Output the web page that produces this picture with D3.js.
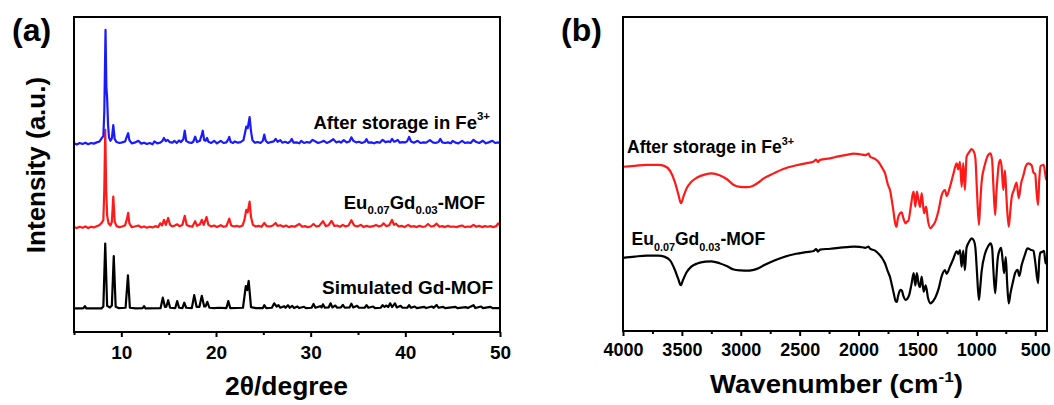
<!DOCTYPE html>
<html>
<head>
<meta charset="utf-8">
<script src="https://cdn.jsdelivr.net/npm/d3@7"></script>
<style>
  html, body { margin: 0; padding: 0; background: #fff; }
  svg { display: block; }
  text { font-family: "Liberation Sans", Arial, sans-serif; font-weight: bold; fill: #000; }
</style>
</head>
<body>
<script>
// ---------- (a) powder XRD patterns: [2θ (deg), intensity above own baseline (a.u.)] ----------
const xrdSimulated = [
  [5.0,0],[5.8,0],[6.0,0.1],[6.15,0.7],[6.3,0],[7.9,0],[8.1,0.6],[8.3,20.6],[8.5,0.8],[8.8,0.3],
  [9.0,0.9],[9.2,16.6],[9.4,0.5],[9.7,0.1],[10.45,0.2],[10.7,10.5],[10.9,0.2],[11.5,0],[12.25,0.1],
  [12.4,0.7],[12.55,0],[14.15,0.1],[14.38,3.4],[14.6,0.5],[14.75,0.5],[14.95,2.6],[15.15,0.2],
  [15.7,0.1],[15.9,2.3],[16.1,0.2],[16.45,0.1],[16.65,1.8],[16.85,0.2],[17.45,0.1],[17.7,4.2],
  [17.95,0.5],[18.25,0.5],[18.5,4.0],[18.75,0.6],[18.9,0.6],[19.08,2.1],[19.3,0.2],[19.8,0.1],
  [20.3,0.2],[21.1,0.1],[21.3,2.3],[21.5,0.1],[22.85,0.2],[23.15,7.1],[23.3,5.8],[23.45,8.7],
  [23.7,0.4],[24.2,0.1],[24.95,0.1],[25.1,1.0],[25.3,0.1],[25.9,0.2],[26.15,1.6],[26.4,0.6],
  [26.6,1.0],[26.8,0.2],[27.2,0.7],[27.35,0.2],[27.6,1.0],[27.8,0.2],[28.05,0.8],[28.25,0.1],
  [28.6,0.6],[28.8,0.1],[29.3,0.5],[29.5,0.1],[30.1,0.2],[30.3,1.4],[30.5,0.2],[31.0,0.7],
  [31.15,0.3],[31.3,1.3],[31.5,0.2],[31.9,0.3],[32.1,1.6],[32.3,0.3],[32.6,0.9],[32.8,0.2],
  [33.2,0.3],[33.4,1.1],[33.6,0.2],[34.1,0.3],[34.3,1.5],[34.5,0.3],[34.9,0.8],[35.1,0.2],
  [35.7,0.2],[35.9,1.0],[36.1,0.2],[36.6,0.6],[36.8,0.1],[37.4,0.2],[37.6,1.0],[37.8,0.5],
  [38.0,0.9],[38.2,0.4],[38.4,1.6],[38.6,0.4],[38.9,1.6],[39.1,0.3],[39.5,0.8],[39.7,0.2],
  [40.2,0.2],[40.4,1.0],[40.6,0.2],[41.0,0.6],[41.2,0.1],[42.0,0.5],[42.2,0.1],[42.8,0.6],
  [43.0,0.2],[43.3,1.1],[43.5,0.2],[44.0,0.5],[44.2,0.1],[45.3,0.5],[45.5,0.1],[46.4,0.4],
  [46.6,0.1],[47.2,1.0],[47.4,0.1],[48.0,0.6],[48.2,0.1],[49.0,0.5],[49.2,0.1],[50.0,0.1]
];

const xrdEuGd = [
  [5.0,0.3],[5.3,0.0],[5.6,0.4],[5.9,0.1],[6.2,0.5],[6.5,0.0],[6.8,0.4],[7.1,0.2],[7.4,0.6],
  [7.7,1.0],[7.95,1.8],[8.1,2.5],[8.2,12],[8.3,31.2],[8.4,12],[8.5,4.0],[8.65,1.5],[8.85,0.8],
  [9.0,2.0],[9.15,10.0],[9.3,2.0],[9.5,0.6],[9.8,0.3],[10.1,0.5],[10.4,0.9],[10.6,3.0],[10.72,4.8],
  [10.85,1.5],[11.1,0.3],[11.4,0.5],[11.8,0.8],[12.1,0.2],[12.4,0.5],[12.7,0.1],[13.0,0.4],
  [13.3,0.2],[13.6,0.6],[13.9,0.3],[14.1,1.5],[14.3,0.8],[14.5,2.6],[14.7,1.0],[14.95,3.2],
  [15.15,1.0],[15.4,0.5],[15.65,0.8],[15.9,1.2],[16.15,0.6],[16.45,1.0],[16.7,3.9],[16.9,1.0],
  [17.2,0.6],[17.5,0.4],[17.8,2.2],[18.0,0.7],[18.3,1.2],[18.5,2.6],[18.7,1.0],[19.0,3.5],
  [19.2,1.0],[19.5,0.5],[19.8,0.8],[20.1,0.3],[20.5,0.9],[20.8,0.4],[21.1,0.6],[21.4,3.0],
  [21.6,0.8],[21.9,0.5],[22.2,0.7],[22.5,0.4],[22.8,0.8],[23.0,2.5],[23.2,5.8],[23.35,5.0],
  [23.55,8.4],[23.7,3.5],[23.9,1.0],[24.2,0.5],[24.5,0.7],[24.8,0.4],[25.1,1.6],[25.35,0.6],
  [25.7,0.5],[26.0,0.8],[26.3,1.6],[26.5,0.7],[26.8,0.9],[27.1,0.4],[27.4,0.8],[27.7,0.3],
  [28.0,0.6],[28.3,0.4],[28.8,1.3],[29.1,0.4],[29.4,0.6],[29.7,0.3],[30.0,0.5],[30.3,1.3],
  [30.6,0.5],[30.9,0.7],[31.3,2.2],[31.6,0.6],[31.9,0.9],[32.2,2.3],[32.5,0.7],[32.8,0.8],
  [33.1,0.4],[33.4,1.0],[33.7,0.5],[34.0,0.8],[34.3,2.5],[34.6,0.8],[34.9,0.5],[35.3,1.0],
  [35.6,0.3],[35.9,0.7],[36.2,0.4],[36.6,0.6],[36.9,1.0],[37.2,0.5],[37.5,0.8],[37.7,1.5],
  [38.0,0.6],[38.3,0.9],[38.6,2.6],[38.8,1.0],[39.0,1.4],[39.3,0.5],[39.6,0.7],[39.9,0.3],
  [40.3,1.0],[40.6,0.4],[40.9,0.6],[41.2,0.3],[41.5,0.7],[41.8,0.4],[42.1,0.5],[42.4,1.3],
  [42.7,0.5],[43.0,0.6],[43.3,1.4],[43.6,0.4],[43.9,0.6],[44.2,0.3],[44.5,0.7],[44.8,0.4],
  [45.1,0.5],[45.4,0.3],[45.7,0.6],[46.0,0.8],[46.3,0.3],[46.6,0.5],[46.9,0.4],[47.2,1.0],
  [47.5,0.4],[47.8,0.7],[48.1,0.3],[48.4,0.6],[48.7,0.4],[49.0,0.6],[49.3,0.3],[49.6,0.6],
  [49.8,1.5],[50.0,0.8]
];

const xrdAfterFe = [
  [5.0,0.2],[5.3,-0.2],[5.6,0.3],[5.9,0.0],[6.2,0.4],[6.5,-0.1],[6.8,0.3],[7.1,0.1],[7.4,0.5],
  [7.7,0.8],[7.95,1.9],[8.1,2.5],[8.2,10],[8.33,36.2],[8.42,18],[8.5,14.6],[8.6,6],[8.7,2.0],
  [8.85,1.0],[9.0,1.8],[9.15,6.0],[9.3,1.5],[9.5,0.6],[9.8,0.3],[10.1,0.5],[10.4,0.8],[10.6,2.5],
  [10.72,3.4],[10.85,1.2],[11.1,0.2],[11.4,0.4],[11.8,1.0],[12.1,0.1],[12.4,0.4],[12.7,0.0],
  [13.0,0.3],[13.3,-0.1],[13.5,0.8],[13.8,0.2],[14.1,0.4],[14.35,1.0],[14.5,1.9],[14.7,0.9],
  [14.9,1.3],[15.1,0.6],[15.4,0.4],[15.6,1.0],[15.85,0.3],[16.1,1.1],[16.3,0.6],[16.55,1.5],
  [16.7,4.2],[16.85,1.0],[17.1,0.5],[17.4,0.3],[17.6,0.7],[17.8,2.3],[18.0,0.6],[18.3,1.0],
  [18.5,3.0],[18.6,4.2],[18.75,1.2],[18.9,1.0],[19.05,1.9],[19.2,0.7],[19.5,0.3],[19.8,1.0],
  [20.1,0.2],[20.5,1.0],[20.8,0.3],[21.1,0.5],[21.3,1.5],[21.4,2.2],[21.55,0.6],[21.8,0.3],
  [22.0,0.8],[22.3,0.4],[22.6,0.6],[22.9,1.2],[23.1,4.0],[23.2,5.5],[23.35,5.0],[23.55,8.5],
  [23.7,4.0],[23.85,1.2],[24.1,0.4],[24.4,0.6],[24.7,0.3],[24.95,1.0],[25.1,3.0],[25.25,1.0],
  [25.5,0.3],[25.8,0.6],[26.1,0.8],[26.3,1.6],[26.5,0.7],[26.8,1.2],[27.0,0.4],[27.3,0.7],
  [27.6,0.3],[27.85,0.8],[28.0,1.6],[28.2,0.4],[28.5,0.5],[28.8,0.2],[29.0,1.0],[29.3,0.3],
  [29.6,0.6],[29.9,0.4],[30.2,1.3],[30.5,0.8],[30.8,0.3],[31.1,0.6],[31.4,1.0],[31.7,0.3],
  [32.0,0.7],[32.4,1.5],[32.7,0.5],[33.0,0.8],[33.2,0.4],[33.5,1.2],[33.8,0.5],[34.1,0.8],
  [34.3,2.1],[34.5,1.0],[34.8,0.5],[35.1,0.7],[35.4,0.3],[35.7,0.6],[35.9,1.5],[36.1,0.4],
  [36.4,0.5],[36.7,0.2],[37.0,0.6],[37.3,0.4],[37.6,1.3],[37.9,0.6],[38.2,0.8],[38.4,0.6],
  [38.6,1.6],[38.8,0.7],[39.0,0.9],[39.2,1.3],[39.4,0.4],[39.7,0.6],[40.0,0.5],[40.2,0.9],
  [40.4,2.2],[40.6,0.8],[40.9,0.4],[41.1,0.7],[41.3,1.0],[41.6,0.3],[41.9,0.5],[42.2,0.4],
  [42.6,1.2],[42.9,0.5],[43.2,0.3],[43.5,0.6],[43.7,1.6],[43.9,0.5],[44.2,0.3],[44.5,0.5],
  [44.8,0.2],[45.0,1.0],[45.3,0.4],[45.6,0.2],[46.0,1.0],[46.3,0.3],[46.6,0.5],[46.9,0.3],
  [47.2,1.3],[47.5,0.6],[47.8,0.3],[48.2,1.0],[48.5,0.2],[48.8,0.5],[49.2,1.0],[49.5,0.3],
  [49.8,0.5],[50.0,0.2]
];

// vertical stacking offsets (a.u.) and colours, bottom to top
const xrdOffsets = [7.5, 33.0, 59.7];
const xrdColors = ["#000000", "#ff1a1a", "#1a1aff"];
const xrdTicks = [10, 20, 30, 40, 50];
const xrdMinorTicks = [5, 15, 25, 35, 45];

// ---------- (b) FT-IR spectra: [wavenumber (cm-1), transmittance (a.u.)] ----------
const irAfterFe = [
  [4000,52.3],[3900,52.6],[3800,52.9],[3700,52.9],[3650,52.6],[3600,51.0],[3560,47.5],[3530,43.5],
  [3507,40.7],[3485,43.0],[3459,45.5],[3420,47.5],[3374,48.8],[3300,49.9],[3247,50.2],[3180,49.6],
  [3120,48.4],[3063,46.6],[3007,45.9],[2950,45.8],[2900,46.2],[2850,47.3],[2809,48.5],[2720,50.2],
  [2639,51.6],[2526,52.8],[2450,53.4],[2384,53.9],[2360,54.6],[2345,53.8],[2327,54.5],[2243,55.0],
  [2170,55.6],[2101,56.1],[2040,56.5],[1988,56.3],[1940,56.0],[1915,56.5],[1903,55.6],[1860,54.8],
  [1832,53.9],[1800,52.0],[1775,50.2],[1750,46.5],[1733,44.9],[1715,41.0],[1705,38.5],[1690,34.5],
  [1678,33.2],[1668,35.5],[1648,37.5],[1634,37.8],[1620,36.0],[1600,34.3],[1590,34.8],[1578,35.0],
  [1555,40.0],[1540,43.6],[1532,44.4],[1518,39.6],[1505,44.4],[1490,41.5],[1478,39.5],[1464,43.9],
  [1444,37.5],[1427,39.6],[1410,35.0],[1390,32.7],[1375,33.3],[1351,34.6],[1320,38.5],[1294,43.3],
  [1266,44.9],[1251,43.0],[1224,45.9],[1195,50.0],[1167,53.4],[1154,51.5],[1139,53.9],[1125,45.9],
  [1111,53.5],[1097,44.9],[1083,55.5],[1060,57.0],[1040,57.9],[1020,57.0],[1008,55.0],[995,45.0],
  [978,33.8],[968,40.0],[955,47.5],[927,53.0],[900,56.0],[880,56.6],[866,54.5],[856,47.0],
  [840,36.9],[830,44.0],[820,49.0],[810,53.0],[796,54.5],[785,52.3],[771,44.9],[757,51.2],
  [745,43.0],[725,33.2],[712,38.0],[700,42.5],[680,45.0],[658,47.3],[640,42.3],[620,47.0],
  [601,49.5],[580,52.5],[559,53.4],[531,52.8],[515,50.5],[500,50.0],[490,45.0],[476,40.1],
  [466,48.0],[455,52.5],[440,52.8],[428,52.9],[415,50.0],[405,48.1],[400,48.5]
];

const irEuGd = [
  [4000,23.3],[3900,23.7],[3800,24.0],[3700,24.0],[3650,23.7],[3600,22.5],[3560,19.5],[3530,16.5],
  [3510,14.6],[3490,16.3],[3460,18.7],[3420,20.5],[3370,21.5],[3300,22.1],[3250,22.2],[3180,21.6],
  [3120,20.7],[3060,19.6],[3000,19.3],[2950,19.2],[2900,19.4],[2850,20.0],[2800,21.0],[2720,22.4],
  [2640,23.5],[2530,24.6],[2450,25.1],[2380,25.5],[2360,26.1],[2345,25.3],[2327,25.9],[2240,26.2],
  [2170,26.5],[2100,26.7],[2040,26.9],[1990,26.8],[1940,26.5],[1915,26.9],[1903,26.2],[1860,25.6],
  [1830,24.6],[1800,23.2],[1775,21.5],[1750,18.8],[1733,17.2],[1715,14.3],[1700,11.8],[1685,9.5],
  [1675,9.3],[1665,11.0],[1645,13.1],[1632,12.8],[1618,11.0],[1600,9.9],[1585,10.3],[1570,11.5],
  [1550,15.0],[1532,18.4],[1518,14.5],[1505,18.4],[1490,15.0],[1478,14.0],[1464,17.3],[1447,12.5],
  [1430,14.5],[1410,10.5],[1390,8.8],[1375,9.2],[1350,10.5],[1320,13.5],[1294,17.5],[1266,19.4],
  [1252,18.2],[1224,20.5],[1195,23.0],[1167,25.4],[1154,24.5],[1139,25.8],[1125,20.5],[1111,25.6],
  [1097,19.4],[1083,26.5],[1060,28.5],[1040,29.5],[1020,28.7],[1008,26.5],[995,19.0],[978,9.9],
  [968,13.5],[955,19.0],[927,24.5],[900,27.0],[880,27.9],[866,26.5],[856,20.0],[840,12.0],
  [830,17.0],[820,22.5],[805,25.5],[790,26.5],[775,22.0],[764,18.4],[750,23.5],[738,15.0],
  [725,8.8],[710,12.0],[690,15.5],[670,18.5],[650,19.5],[635,17.5],[615,21.0],[590,24.0],
  [565,26.3],[540,25.9],[515,25.5],[500,22.0],[476,15.2],[466,22.5],[455,25.0],[440,25.2],
  [425,25.5],[412,21.5],[400,22.5]
];

const irColors = ["#000000", "#ff1a1a"];
const irTicks = [4000, 3500, 3000, 2500, 2000, 1500, 1000, 500];
const irMinorTicks = [3750, 3250, 2750, 2250, 1750, 1250, 750];

// ---------- layout ----------
const W = 1054, H = 405;
const svg = d3.select("body").append("svg").attr("width", W).attr("height", H);
svg.append("rect").attr("width", W).attr("height", H).attr("fill", "#fff");

const panelA = { left: 74, right: 500, top: 17, bottom: 332 };
const panelB = { left: 623, right: 1047, top: 17, bottom: 331 };

// label with sub/superscripts: segments of {t, sub?, sup?}
function richText(g, segs, size, anchor) {
  const t = g.append("text").attr("font-size", size).attr("text-anchor", anchor || "start");
  let shift = 0;
  segs.forEach(s => {
    let target = 0;
    if (s.sub) target = size * 0.32;
    if (s.sup) target = -size * 0.45;
    t.append("tspan")
      .attr("dy", target - shift)
      .attr("font-size", (s.sub || s.sup) ? size * 0.62 : size)
      .text(s.t);
    shift = target;
  });
  return t;
}

function fitWidth(sel, cx, y, target) {
  const w = sel.node().getComputedTextLength();
  sel.attr("text-anchor", "middle")
     .attr("transform", `translate(${cx},${y}) scale(${target / w},1)`);
}

// ---------- panel (a) ----------
const xA = d3.scaleLinear().domain([5, 50]).range([panelA.left, panelA.right]);
const yA = d3.scaleLinear().domain([0, 100]).range([panelA.bottom, panelA.top]);

const gA = svg.append("g");
gA.append("clipPath").attr("id", "clipA").append("rect")
  .attr("x", panelA.left).attr("y", panelA.top)
  .attr("width", panelA.right - panelA.left).attr("height", panelA.bottom - panelA.top);

[xrdSimulated, xrdEuGd, xrdAfterFe].forEach((series, i) => {
  const line = d3.line().x(d => xA(d[0])).y(d => yA(d[1] + xrdOffsets[i]));
  gA.append("path").datum(series)
    .attr("clip-path", "url(#clipA)")
    .attr("fill", "none").attr("stroke", xrdColors[i])
    .attr("stroke-width", 2.2)
    .attr("stroke-linejoin", "round")
    .attr("d", line);
});

// frame
gA.append("rect").attr("x", panelA.left).attr("y", panelA.top)
  .attr("width", panelA.right - panelA.left).attr("height", panelA.bottom - panelA.top)
  .attr("fill", "none").attr("stroke", "#000").attr("stroke-width", 2);

// bottom axis
const axA = gA.append("g").attr("transform", `translate(0,${panelA.bottom})`)
  .call(d3.axisBottom(xA).tickValues(xrdTicks).tickSize(5).tickPadding(9).tickFormat(d3.format("d")));
axA.select(".domain").remove();
axA.selectAll(".tick line").attr("stroke-width", 2);
axA.selectAll(".tick text")
  .attr("font-family", "'Liberation Serif', 'Times New Roman', serif")
  .attr("font-weight", "bold").attr("font-size", 19).attr("fill", "#000");
const axAm = gA.append("g").attr("transform", `translate(0,${panelA.bottom})`)
  .call(d3.axisBottom(xA).tickValues(xrdMinorTicks).tickSize(3).tickFormat(""));
axAm.select(".domain").remove();
axAm.selectAll(".tick line").attr("stroke-width", 2);

// titles
const tA = gA.append("text").attr("font-size", 25).text("2θ/degree");
fitWidth(tA, 286.5, 395, 123);
gA.append("text").attr("font-size", 26).attr("text-anchor", "middle")
  .attr("transform", "translate(45,165) rotate(-90)").text("Intensity (a.u.)");
gA.append("text").attr("font-size", 32).attr("x", 12).attr("y", 41).text("(a)");

// series labels
richText(gA.append("g").attr("transform", "translate(490,128.5)"),
  [{ t: "After storage in Fe" }, { t: "3+", sup: true }], 18.5, "end");
richText(gA.append("g").attr("transform", "translate(485,208.5)"),
  [{ t: "Eu" }, { t: "0.07", sub: true }, { t: "Gd" }, { t: "0.03", sub: true }, { t: "-MOF" }], 18.5, "end");
richText(gA.append("g").attr("transform", "translate(493,293.5)"),
  [{ t: "Simulated Gd-MOF" }], 19, "end");

// ---------- panel (b) ----------
const xB = d3.scaleLinear().domain([4000, 400]).range([panelB.left, panelB.right]);
const yB = d3.scaleLinear().domain([0, 100]).range([panelB.bottom, panelB.top]);

const gB = svg.append("g");
gB.append("clipPath").attr("id", "clipB").append("rect")
  .attr("x", panelB.left).attr("y", panelB.top)
  .attr("width", panelB.right - panelB.left).attr("height", panelB.bottom - panelB.top);

[irEuGd, irAfterFe].forEach((series, i) => {
  const line = d3.line().x(d => xB(d[0])).y(d => yB(d[1])).curve(d3.curveMonotoneX);
  gB.append("path").datum(series)
    .attr("clip-path", "url(#clipB)")
    .attr("fill", "none").attr("stroke", irColors[i])
    .attr("stroke-width", 2.2).attr("stroke-linejoin", "round")
    .attr("d", line);
});

gB.append("rect").attr("x", panelB.left).attr("y", panelB.top)
  .attr("width", panelB.right - panelB.left).attr("height", panelB.bottom - panelB.top)
  .attr("fill", "none").attr("stroke", "#000").attr("stroke-width", 2);

const axB = gB.append("g").attr("transform", `translate(0,${panelB.bottom})`)
  .call(d3.axisBottom(xB).tickValues(irTicks).tickSize(5).tickPadding(7).tickFormat(d3.format("d")));
axB.select(".domain").remove();
axB.selectAll(".tick line").attr("stroke-width", 2);
axB.selectAll(".tick text")
  .attr("font-family", "'Liberation Sans', Arial, sans-serif")
  .attr("font-weight", "bold").attr("font-size", 18).attr("fill", "#000");
const axBm = gB.append("g").attr("transform", `translate(0,${panelB.bottom})`)
  .call(d3.axisBottom(xB).tickValues(irMinorTicks).tickSize(3).tickFormat(""));
axBm.select(".domain").remove();
axBm.selectAll(".tick line").attr("stroke-width", 2);

const tB = richText(gB, [{ t: "Wavenumber (cm" }, { t: "-1", sup: true }, { t: ")" }], 25, "start");
fitWidth(tB, 836.5, 393, 253);
gB.append("text").attr("font-size", 32).attr("x", 561).attr("y", 41).text("(b)");

richText(gB.append("g").attr("transform", "translate(627,153)"),
  [{ t: "After storage in Fe" }, { t: "3+", sup: true }], 17.5, "start");
richText(gB.append("g").attr("transform", "translate(631.5,245)"),
  [{ t: "Eu" }, { t: "0.07", sub: true }, { t: "Gd" }, { t: "0.03", sub: true }, { t: "-MOF" }], 17.5, "start");
</script>
</body>
</html>
